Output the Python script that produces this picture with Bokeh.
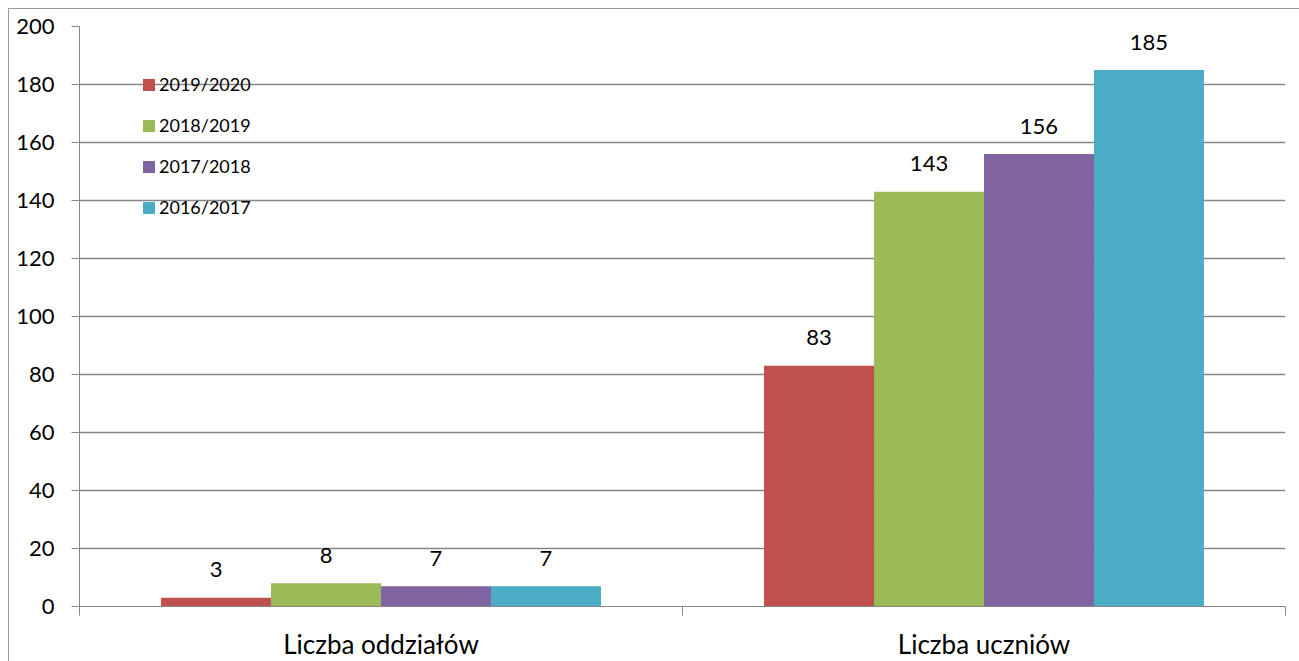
from bokeh.plotting import figure
from bokeh.models import Range1d, FixedTicker, Legend, LegendItem, ColumnDataSource
from bokeh.embed import file_html
from bokeh.resources import INLINE
from bokeh.core.properties import value

categories = ["Liczba oddziałów", "Liczba uczniów"]
years = ["2019/2020", "2018/2019", "2017/2018", "2016/2017"]
v_2019_2020 = [3, 83]
v_2018_2019 = [8, 143]
v_2017_2018 = [7, 156]
v_2016_2017 = [7, 185]
series = [v_2019_2020, v_2018_2019, v_2017_2018, v_2016_2017]
colors = ["#C0504D", "#9BBB59", "#8064A2", "#4BACC6"]
y_ticks = list(range(0, 201, 20))

FONT = "Lato"
GRID = "#868686"

p = figure(width=1291, height=653, output_backend="svg", toolbar_location=None,
           x_range=Range1d(0, len(categories)), y_range=Range1d(0, 200),
           min_border_left=70, min_border_right=15, min_border_top=17, min_border_bottom=54)
p.outline_line_color = None
p.styles = {"margin-left": "8px", "margin-top": "8px",
            "border-left": "1.5px solid #9a9a9a", "border-top": "1.5px solid #9a9a9a"}

# y axis
p.yaxis.ticker = FixedTicker(ticks=y_ticks)
p.yaxis.axis_line_color = GRID
p.yaxis.major_tick_line_color = GRID
p.yaxis.major_tick_out = 8
p.yaxis.major_tick_in = 0
p.yaxis.minor_tick_line_color = None
p.yaxis.major_label_text_font = FONT
p.yaxis.major_label_text_font_size = "22px"
p.yaxis.major_label_text_color = "black"
p.yaxis.major_label_standoff = 17

# x axis: labels at centers, ticks at boundaries
centers = [i + 0.5 for i in range(len(categories))]
bounds = list(range(len(categories) + 1))
p.xaxis.ticker = FixedTicker(ticks=centers, minor_ticks=bounds)
p.xaxis.major_label_overrides = {c: name for c, name in zip(centers, categories)}
p.xaxis.axis_line_color = GRID
p.xaxis.major_tick_line_color = None
p.xaxis.minor_tick_line_color = GRID
p.xaxis.minor_tick_out = 9
p.xaxis.minor_tick_in = 0
p.xaxis.major_label_text_font = FONT
p.xaxis.major_label_text_font_size = "26px"
p.xaxis.major_label_text_color = "black"
p.xaxis.major_label_standoff = 12

p.xgrid.grid_line_color = None
p.ygrid.ticker = FixedTicker(ticks=y_ticks)
p.ygrid.grid_line_color = GRID
p.ygrid.grid_line_width = 1.3

bar_w = 0.1824
n = len(years)
items = []
for k, (yr, vals, col) in enumerate(zip(years, series, colors)):
    off = (k - (n - 1) / 2) * bar_w
    xs = [c + off for c in centers]
    src = ColumnDataSource(dict(x=xs, top=vals, lbl=[str(v) for v in vals]))
    r = p.vbar(x="x", top="top", width=bar_w, bottom=0, source=src,
               fill_color=col, line_color=None)
    p.text(x="x", y="top", text="lbl", source=src, text_align="center",
           text_baseline="middle", y_offset=-28, text_font=value(FONT),
           text_font_size="22px", text_color="black")
    items.append(LegendItem(label=yr, renderers=[r]))

legend = Legend(items=items, location=(62, 388), orientation="vertical",
                glyph_width=15, glyph_height=15, label_height=22, spacing=19,
                label_text_font=FONT, label_text_font_size="18px",
                label_text_color="black", label_standoff=3,
                padding=0, margin=0, border_line_color=None,
                background_fill_alpha=0)
p.add_layout(legend)

open("out.html", "w").write(file_html(p, INLINE))
